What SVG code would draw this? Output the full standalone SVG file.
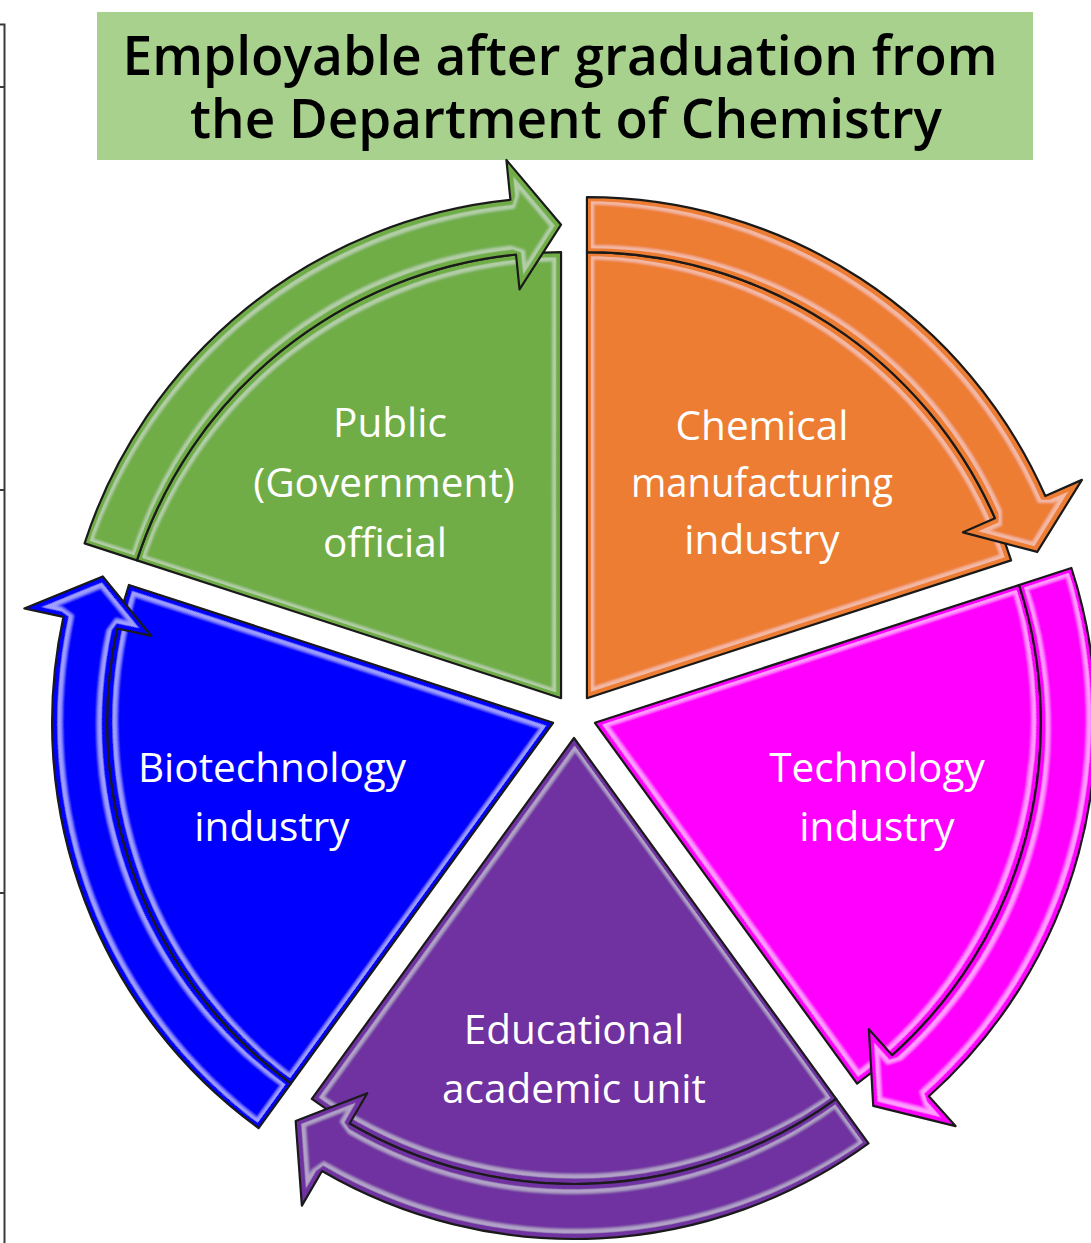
<svg xmlns="http://www.w3.org/2000/svg" xmlns:xlink="http://www.w3.org/1999/xlink" width="1091" height="1243" viewBox="0 0 1091 1243">
  <style>
    .title { font-family: "Open Sans", "Noto Sans", "Liberation Sans", sans-serif; font-size: 54px; font-weight: 600; fill: #000; text-anchor: middle; }
    .lbl { font-family: "Open Sans", "Noto Sans", "Liberation Sans", sans-serif; font-size: 40.5px; font-weight: 500; fill: #fff; text-anchor: middle; }
    .edge { fill: none; stroke: #1a1a1a; stroke-width: 2.2; stroke-linejoin: round; }
    .frame { fill: none; stroke: #3a3a3a; stroke-width: 2; }
  </style>
  <defs>
    <path id="sector" d="M0,0 L0,-446 A446,446 0 0 1 424.17,-137.82 Z"/>
    <path id="arrow" d="M0,-501 A501,501 0 0 1 458.39,-202.18 L494.99,-218.32 L450.33,-146.32 L376.05,-165.86 L408.07,-179.98 A446,446 0 0 0 0,-446 Z"/>
    <filter id="gloss" x="-10%" y="-10%" width="120%" height="120%">
      <feMorphology in="SourceAlpha" operator="erode" radius="4" result="e1"/>
      <feMorphology in="SourceAlpha" operator="erode" radius="7" result="e2"/>
      <feGaussianBlur in="e2" stdDeviation="1" result="b2"/>
      <feComposite in="e1" in2="b2" operator="out" result="ring"/>
      <feGaussianBlur in="ring" stdDeviation="0.7" result="ringb"/>
      <feFlood flood-color="#ffffff" flood-opacity="0.35"/>
      <feComposite in2="ringb" operator="in" result="light"/>
      <feMerge>
        <feMergeNode in="SourceGraphic"/>
        <feMergeNode in="light"/>
      </feMerge>
    </filter>
  </defs>

  <rect width="1091" height="1243" fill="#ffffff"/>

  <g id="frame">
    <path class="frame" d="M0,24.5 H4.5 V1243 M0,87 H4.5 M0,490 H4.5 M0,893 H4.5"/>
  </g>

  <g id="title">
    <rect x="97" y="12" width="936" height="148" fill="#A9D18E"/>
    <text class="title" x="560" y="75" textLength="875" lengthAdjust="spacingAndGlyphs">Employable after graduation from</text>
    <text class="title" x="566" y="138" textLength="752" lengthAdjust="spacingAndGlyphs">the Department of Chemistry</text>
  </g>

  <g id="public-official">
    <g transform="translate(574,716) rotate(-72) translate(12.93,-17.80)">
      <use xlink:href="#sector" fill="#70AD47" filter="url(#gloss)"/>
      <use xlink:href="#sector" class="edge"/>
    </g>
    <text class="lbl" x="390" y="437">Public</text>
    <text class="lbl" x="384" y="497">(Government)</text>
    <text class="lbl" x="385" y="557">official</text>
  </g>

  <g id="chemical-manufacturing">
    <g transform="translate(574,716) rotate(0) translate(12.93,-17.80)">
      <use xlink:href="#sector" fill="#ED7D31" filter="url(#gloss)"/>
      <use xlink:href="#sector" class="edge"/>
    </g>
    <text class="lbl" x="762" y="440">Chemical</text>
    <text class="lbl" x="762" y="497" textLength="262" lengthAdjust="spacingAndGlyphs">manufacturing</text>
    <text class="lbl" x="762" y="554">industry</text>
  </g>

  <g id="technology-industry">
    <g transform="translate(574,716) rotate(72) translate(12.93,-17.80)">
      <use xlink:href="#sector" fill="#FF00FF" filter="url(#gloss)"/>
      <use xlink:href="#sector" class="edge"/>
    </g>
    <text class="lbl" x="877" y="782">Technology</text>
    <text class="lbl" x="877" y="841">industry</text>
  </g>

  <g id="educational-academic">
    <g transform="translate(574,716) rotate(144) translate(12.93,-17.80)">
      <use xlink:href="#sector" fill="#7030A0" filter="url(#gloss)"/>
      <use xlink:href="#sector" class="edge"/>
    </g>
    <text class="lbl" x="574" y="1044">Educational</text>
    <text class="lbl" x="574" y="1103">academic unit</text>
  </g>

  <g id="biotechnology-industry">
    <g transform="translate(574,716) rotate(216) translate(12.93,-17.80)">
      <use xlink:href="#sector" fill="#0000FF" filter="url(#gloss)"/>
      <use xlink:href="#sector" class="edge"/>
    </g>
    <text class="lbl" x="272" y="782">Biotechnology</text>
    <text class="lbl" x="272" y="841">industry</text>
  </g>

  <g id="connectors">
    <g transform="translate(574,716) rotate(-72) translate(12.93,-17.80)">
      <use xlink:href="#arrow" fill="#70AD47" filter="url(#gloss)"/>
      <use xlink:href="#arrow" class="edge"/>
    </g>
    <g transform="translate(574,716) rotate(0) translate(12.93,-17.80)">
      <use xlink:href="#arrow" fill="#ED7D31" filter="url(#gloss)"/>
      <use xlink:href="#arrow" class="edge"/>
    </g>
    <g transform="translate(574,716) rotate(72) translate(12.93,-17.80)">
      <use xlink:href="#arrow" fill="#FF00FF" filter="url(#gloss)"/>
      <use xlink:href="#arrow" class="edge"/>
    </g>
    <g transform="translate(574,716) rotate(144) translate(12.93,-17.80)">
      <use xlink:href="#arrow" fill="#7030A0" filter="url(#gloss)"/>
      <use xlink:href="#arrow" class="edge"/>
    </g>
    <g transform="translate(574,716) rotate(216) translate(12.93,-17.80)">
      <use xlink:href="#arrow" fill="#0000FF" filter="url(#gloss)"/>
      <use xlink:href="#arrow" class="edge"/>
    </g>
  </g>
</svg>
